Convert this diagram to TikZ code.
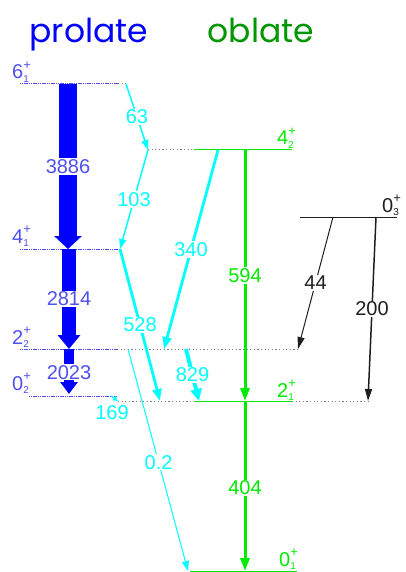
\documentclass[tikz,border=0pt]{standalone}
\usepackage{fontspec}
\setmainfont{Liberation Sans}
\newfontfamily\titlefont{Poppins}
\usetikzlibrary{arrows.meta}
\definecolor{pblue}{RGB}{0,0,255}
\definecolor{lblue}{RGB}{80,80,240}
\definecolor{cy}{RGB}{0,255,255}
\definecolor{gr}{RGB}{0,235,0}
\definecolor{dgreen}{RGB}{0,150,0}
\definecolor{blk}{RGB}{30,30,30}
\newcommand\lev[3]{#1\rlap{\raisebox{0.48em}{\fontsize{13}{13}\selectfont #3}}\raisebox{-0.18em}{\fontsize{10}{10}\selectfont #2}}
\begin{document}
\begin{tikzpicture}[x=1pt,y=-1pt,
  bluelev/.style={draw=pblue!70, line width=1pt, dash pattern=on 1.2pt off 0.6pt},
  greylev/.style={draw=gray, line width=1pt, dash pattern=on 1.2pt off 2.4pt},
  greenlev/.style={draw=gr, line width=1pt, dash pattern=on 1.5pt off 0.5pt},
  blacklev/.style={draw=blk, line width=1pt, dash pattern=on 1.5pt off 0.5pt},
  lab/.style={fill=white, inner sep=1pt, font=\fontsize{20}{20}\selectfont},
  levlab/.style={anchor=base west, inner sep=0pt, font=\fontsize{20}{20}\selectfont},
  title/.style={anchor=base, inner sep=0pt, font=\titlefont\fontsize{33}{33}\selectfont},
  cyarrow/.style={draw=cy, line width=#1, -{Triangle[length=10pt,width=7pt]}},
  cyarrow/.default=1.5pt,
  cyfat/.style={draw=cy, line width=#1, -{Triangle[length=12pt,width=9pt]}},
  cyfat/.default=2.8pt,
  grarrow/.style={draw=gr, line width=3pt, -{Triangle[length=13pt,width=9pt]}},
  bkarrow/.style={draw=blk, line width=#1, -{Triangle[length=12pt,width=7pt]}},
  bkarrow/.default=1pt
]
\useasboundingbox (0,0) rectangle (405,572);

% titles
\node[title, text=pblue] (tprol) at (89,43) {prolate};
\node[title, text=dgreen] (tobl) at (261,43) {oblate};

% level coordinates
\coordinate (s6a) at (20,84);  \coordinate (s6b) at (118,84);  \coordinate (s6c) at (126,84);
\coordinate (s4a) at (20,249); \coordinate (s4b) at (118,249);
\coordinate (s2a) at (20,349); \coordinate (s2b) at (117,349); \coordinate (s2c) at (300,349);
\coordinate (s0a) at (29,396); \coordinate (s0b) at (117,396);
\coordinate (o4a) at (148,150); \coordinate (o4b) at (194,150); \coordinate (o4c) at (292,150);
\coordinate (o2a) at (118,401); \coordinate (o2b) at (195,401); \coordinate (o2c) at (292,401); \coordinate (o2d) at (370,401);
\coordinate (o0a) at (190,571); \coordinate (o0b) at (297,571);
\coordinate (t3a) at (300,217); \coordinate (t3b) at (397,217);

% levels
\draw[bluelev] (s6a) -- (s6b); \draw[greylev] (s6b) -- (s6c);
\draw[bluelev] (s4a) -- (s4b);
\draw[bluelev] (s2a) -- (s2b); \draw[greylev] (s2b) -- (s2c);
\draw[bluelev] (s0a) -- (s0b);
\draw[greylev] (o4a) -- (o4b); \draw[greenlev] (o4b) -- (o4c);
\draw[greylev] (o2a) -- (o2b); \draw[greenlev] (o2b) -- (o2c); \draw[greylev] (o2c) -- (o2d);
\draw[greenlev] (o0a) -- (o0b);
\draw[blacklev] (t3a) -- (t3b);

% level labels
\node[levlab, text=lblue] (l61) at (12,79) {\lev{6}{1}{+}};
\node[levlab, text=lblue] (l41) at (12,243) {\lev{4}{1}{+}};
\node[levlab, text=lblue] (l22) at (12,344) {\lev{2}{2}{+}};
\node[levlab, text=lblue] (l02) at (12,390) {\lev{0}{2}{+}};
\node[levlab, text=gr] (l42) at (277,145) {\lev{4}{2}{+}};
\node[levlab, text=gr] (l21) at (277,397) {\lev{2}{1}{+}};
\node[levlab, text=gr] (l01) at (279,566) {\lev{0}{1}{+}};
\node[levlab, text=blk] (l03) at (382,212) {\lev{0}{3}{+}};

% prolate band (fat blue arrows)
\coordinate (b6) at (68,84); \coordinate (b4) at (68,249);
\coordinate (b4s) at (69,249); \coordinate (b2) at (69,349);
\coordinate (b2s) at (69,349); \coordinate (b0) at (69,394);
\draw[pblue, line width=18pt, -{Triangle[length=13pt,width=27pt]}] (b6) -- (b4)
  node[lab, midway, text=lblue] (e3886) {3886};
\draw[pblue, line width=14pt, -{Triangle[length=14pt,width=22pt]}] (b4s) -- (b2)
  node[lab, midway, text=lblue] (e2814) {2814};
\draw[pblue, line width=10pt, -{Triangle[length=12pt,width=17pt]}] (b2s) -- (b0)
  node[lab, pos=0.52, text=lblue] (e2023) {2023};

% cyan transitions
\coordinate (c63a) at (126,84); \coordinate (c63b) at (148,150);
\draw[cyarrow] (c63a) -- (c63b) node[lab, midway, text=cy] (e63) {63};
\coordinate (c103b) at (120,249);
\draw[cyarrow] (c63b) -- (c103b) node[lab, midway, text=cy] (e103) {103};
\coordinate (c528b) at (160,401);
\draw[cyfat] (c103b) -- (c528b) node[lab, midway, text=cy] (e528) {528};
\coordinate (c340a) at (218,150); \coordinate (c340b) at (164,349);
\draw[cyfat] (c340a) -- (c340b) node[lab, midway, text=cy] (e340) {340};
\coordinate (c829a) at (186,349); \coordinate (c829b) at (199,401);
\draw[cyfat=4pt, -{Triangle[length=12pt,width=11pt]}] (c829a) -- (c829b) node[lab, midway, text=cy] (e829) {829};
\coordinate (c02a) at (128,349); \coordinate (c02b) at (188,571);
\draw[cyarrow=1pt] (c02a) -- (c02b) node[lab, pos=0.51, text=cy] (e02) {0.2};
\coordinate (c169a) at (111,396); \coordinate (c169b) at (118,401);
\draw[draw=cy, line width=1pt, -{Triangle[length=5pt,width=5pt]}] (c169a) -- (c169b);
\node[lab, text=cy, fill=none] (e169) at (112,413) {169};

% green transitions
\coordinate (g4) at (245,150); \coordinate (g2) at (245,401); \coordinate (g0) at (245,571);
\draw[grarrow] (g4) -- (g2) node[lab, midway, text=gr] (e594) {594};
\draw[grarrow] (g2) -- (g0) node[lab, pos=0.51, text=gr] (e404) {404};

% black transitions
\coordinate (k44a) at (333,217); \coordinate (k44b) at (298,349);
\draw[bkarrow] (k44a) -- (k44b) node[lab, midway, text=blk] (e44) {44};
\coordinate (k200a) at (376,217); \coordinate (k200b) at (368,401);
\draw[bkarrow=1.5pt] (k200a) -- (k200b) node[lab, midway, text=blk] (e200) {200};
\end{tikzpicture}
\end{document}
